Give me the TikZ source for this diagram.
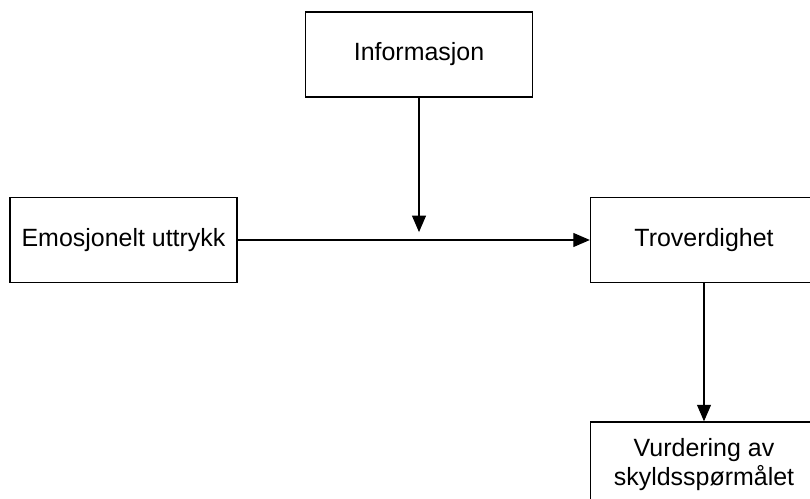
\documentclass[tikz,border=0pt]{standalone}
\usepackage{fontspec}
\setmainfont{Liberation Sans}
\usetikzlibrary{arrows.meta}

\tikzset{
	box/.style={draw, line width=0.8pt, minimum width=4.54cm, minimum height=1.7cm,
		align=center, inner sep=0pt, font=\fontsize{14.2pt}{17pt}\selectfont},
	flow/.style={line width=0.6pt, -{Triangle[length=0.33cm, width=0.28cm]}}
}

\begin{document}
\begin{tikzpicture}[x=0.02cm, y=-0.02cm]
			\useasboundingbox (0,0) rectangle (810,499);
			\clip (0,0) rectangle (810,499);
			\node[box] (info) at (419,54.5) {Informasjon};
			\node[box] (emo) at (123.5,240) {Emosjonelt uttrykk};
			\node[box] (tro) at (704,240) {Troverdighet};
			\node[box] (vurd) at (704,464.5) {Vurdering av\\skyldsspørmålet};
			\coordinate (hit) at (info.south |- emo.east);
			\draw[flow] (emo) -- (tro);
			\draw[flow, shorten >=4.5] (info) -- (hit);
			\draw[flow] (tro) -- (vurd);
		\end{tikzpicture}
\end{document}
